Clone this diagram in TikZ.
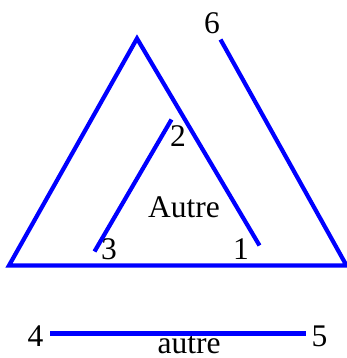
\documentclass[tikz,border=0pt]{standalone}
\usepackage{fontspec}
\setmainfont{Liberation Serif}
\usetikzlibrary{positioning}

\begin{document}
\begin{tikzpicture}[
        x=1bp, y=-1bp,
        % Define common styles for the lines and labels
        trait/.style={draw=blue, line width=4.2bp},
        label/.style={anchor=base, inner sep=0pt, font=\fontsize{31.5bp}{36bp}\selectfont}
    ]
    \useasboundingbox (0,0) rectangle (347,358);

        % Define the points
        \coordinate (pSix) at (220.5,39.5);
        \coordinate (baseR) at (346.5,265.5);
        \coordinate (baseL) at (9,265.5);
        \coordinate (apex) at (137,38.5);
        \coordinate (pOne) at (259.5,245.5);
        \coordinate (pTwo) at (171.5,119.5);
        \coordinate (pThree) at (94.5,251.5);
        \coordinate (pFour) at (50,333.5);
        \coordinate (pFive) at (306,333.5);

        % Define the labels
        \node[label] (six) at (212,33.5) {6};
        \node[label] (two) at (178,146.5) {2};
        \node[label] (three) at (109,259.5) {3};
        \node[label] (one) at (241,259.5) {1};
        \node[label] (bigAutre) at (184,217.5) {Autre};
        \node[label] (four) at (35.5,346.5) {4};
        \node[label] (five) at (319.5,346.5) {5};
        \node[label] (smallAutre) at (189,353) {autre};

        % Draw the lines
        \draw[trait] (pSix) -- (baseR) -- (baseL) -- (apex) -- (pOne);
        \draw[trait] (pTwo) -- (pThree);
        \draw[trait] (pFour) -- (pFive);

\end{tikzpicture}
\end{document}
